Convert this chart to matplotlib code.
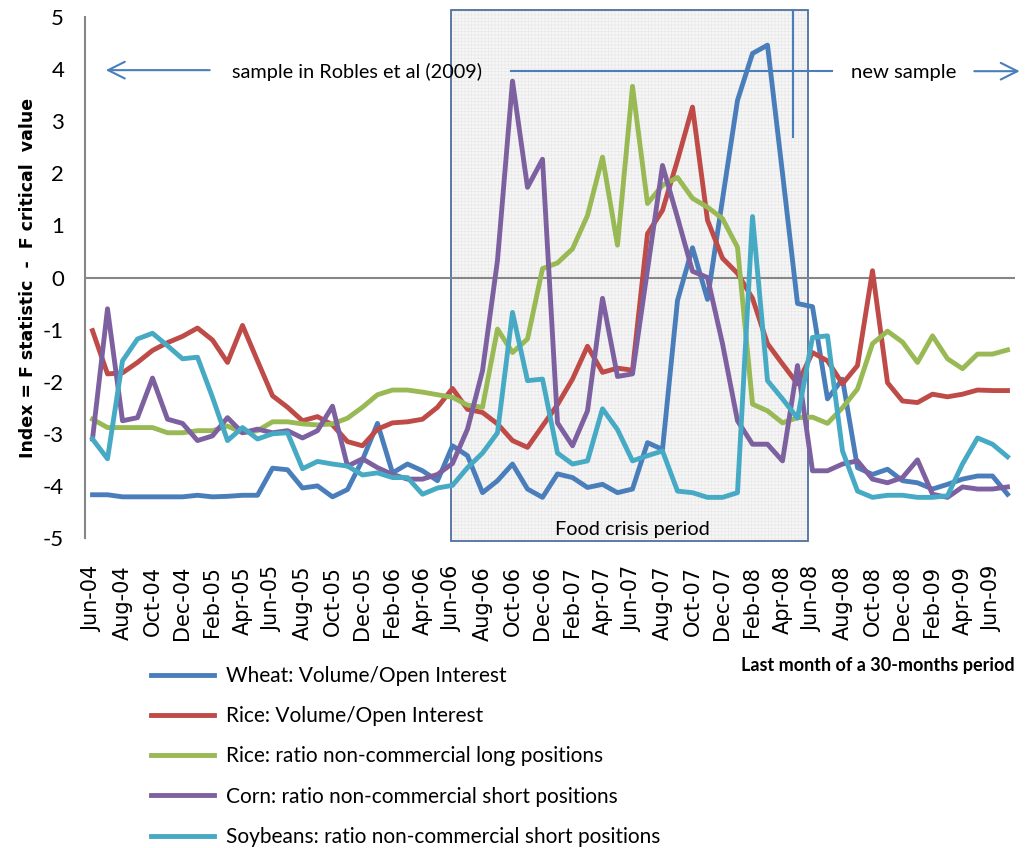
import matplotlib
matplotlib.use('Agg')
import matplotlib.pyplot as plt
from matplotlib.patches import Rectangle
import numpy as np

NARROW = ['Lato', 'DejaVu Sans']
WIDE = ['DejaVu Sans']

# monthly points, Jun-04 .. Jul-09 (last month of each 30-month window)
tick_labels = ['Jun-04', 'Aug-04', 'Oct-04', 'Dec-04', 'Feb-05', 'Apr-05', 'Jun-05', 'Aug-05',
               'Oct-05', 'Dec-05', 'Feb-06', 'Apr-06', 'Jun-06', 'Aug-06', 'Oct-06', 'Dec-06',
               'Feb-07', 'Apr-07', 'Jun-07', 'Aug-07', 'Oct-07', 'Dec-07', 'Feb-08', 'Apr-08',
               'Jun-08', 'Aug-08', 'Oct-08', 'Dec-08', 'Feb-09', 'Apr-09', 'Jun-09']

wheat = [-4.17, -4.17, -4.21, -4.21, -4.21, -4.21, -4.21, -4.18, -4.21, -4.20,
         -4.18, -4.18, -3.66, -3.69, -4.04, -4.00, -4.21, -4.07, -3.50, -2.80,
         -3.75, -3.58, -3.71, -3.90, -3.23, -3.42, -4.13, -3.90, -3.58, -4.06,
         -4.22, -3.77, -3.84, -4.03, -3.97, -4.13, -4.06, -3.17, -3.30, -0.44,
         0.57, -0.42, 1.50, 3.40, 4.30, 4.46, 2.00, -0.50, -0.56, -2.33,
         -1.95, -3.65, -3.78, -3.68, -3.90, -3.94, -4.06, -3.97, -3.87, -3.81,
         -3.81, -4.16]
rice_vol = [-1.02, -1.85, -1.83, -1.63, -1.40, -1.25, -1.13, -0.97, -1.20, -1.63,
            -0.92, -1.60, -2.27, -2.49, -2.75, -2.67, -2.83, -3.15, -3.23, -2.91,
            -2.79, -2.77, -2.72, -2.49, -2.13, -2.53, -2.59, -2.81, -3.13, -3.26,
            -2.85, -2.44, -1.95, -1.32, -1.82, -1.74, -1.78, 0.84, 1.29, 2.25,
            3.27, 1.10, 0.37, 0.08, -0.40, -1.27, -1.66, -2.04, -1.44, -1.60,
            -2.04, -1.69, 0.13, -2.02, -2.37, -2.40, -2.24, -2.29, -2.24, -2.16,
            -2.17, -2.17]
rice_long = [-2.72, -2.88, -2.88, -2.88, -2.88, -2.98, -2.98, -2.94, -2.94, -2.85,
             -2.98, -2.94, -2.77, -2.77, -2.81, -2.83, -2.81, -2.70, -2.49, -2.25,
             -2.16, -2.16, -2.20, -2.25, -2.30, -2.45, -2.49, -0.99, -1.44, -1.18,
             0.17, 0.28, 0.55, 1.19, 2.31, 0.62, 3.67, 1.42, 1.77, 1.92,
             1.52, 1.35, 1.13, 0.58, -2.43, -2.56, -2.79, -2.69, -2.68, -2.80,
             -2.50, -2.14, -1.27, -1.03, -1.24, -1.63, -1.12, -1.56, -1.75, -1.47,
             -1.47, -1.39]
corn_short = [-3.10, -0.60, -2.75, -2.69, -1.93, -2.72, -2.80, -3.13, -3.04, -2.69,
              -2.98, -2.91, -2.98, -2.94, -3.08, -2.94, -2.47, -3.62, -3.48, -3.65,
              -3.78, -3.87, -3.87, -3.78, -3.57, -2.91, -1.79, 0.33, 3.77, 1.73,
              2.27, -2.79, -3.23, -2.56, -0.40, -1.90, -1.85, 0.15, 2.15, 1.15,
              0.12, 0.00, -1.27, -2.75, -3.20, -3.20, -3.52, -1.69, -3.71, -3.71,
              -3.58, -3.52, -3.87, -3.94, -3.84, -3.50, -4.16, -4.22, -4.02, -4.06,
              -4.06, -4.02]
soy_short = [-3.10, -3.48, -1.60, -1.18, -1.07, -1.31, -1.56, -1.53, -2.30, -3.13,
             -2.88, -3.10, -3.00, -2.98, -3.67, -3.53, -3.58, -3.62, -3.79, -3.75,
             -3.84, -3.84, -4.16, -4.04, -3.99, -3.65, -3.37, -2.98, -0.67, -1.98,
             -1.95, -3.37, -3.58, -3.52, -2.52, -2.92, -3.52, -3.42, -3.33, -4.10,
             -4.13, -4.22, -4.22, -4.13, 1.17, -1.98, -2.33, -2.70, -1.15, -1.12,
             -3.33, -4.10, -4.22, -4.18, -4.18, -4.22, -4.22, -4.19, -3.58, -3.08,
             -3.20, -3.44]

series = [
    (wheat, '#4A7EBB', 'Wheat: Volume/Open Interest'),
    (rice_vol, '#BE4B48', 'Rice: Volume/Open Interest'),
    (rice_long, '#98B954', 'Rice: ratio non-commercial long positions'),
    (corn_short, '#7D60A0', 'Corn: ratio non-commercial short positions'),
    (soy_short, '#46AAC5', 'Soybeans: ratio non-commercial short positions'),
]

plt.rcParams['hatch.linewidth'] = 0.4

fig = plt.figure(figsize=(10.27, 8.48), dpi=100)
ax = fig.add_axes([85 / 1027, 1 - 538 / 848, 930 / 1027, 521 / 848])

x = np.arange(len(wheat))

# food crisis shaded box
bx0, bx1, by0, by1 = 23.9, 47.7, -5.06, 5.13
ax.add_patch(Rectangle((bx0, by0), bx1 - bx0, by1 - by0, facecolor='#f6f6f6',
                       edgecolor='#e6e6e6', hatch='+++++', lw=0, zorder=0, clip_on=False))
ax.add_patch(Rectangle((bx0, by0), bx1 - bx0, by1 - by0, fill=False,
                       edgecolor='#4F6F9F', lw=1.3, zorder=1, clip_on=False))

ax.axhline(0, color='#868686', lw=1.5, zorder=2)

lines = []
for vals, col, lab in series:
    ln, = ax.plot(x, vals, color=col, lw=3.5, label=lab, zorder=3, solid_joinstyle='round')
    lines.append(ln)

# sample markers
acol = '#4A7EBB'
ax.plot([27.9, 49.3], [3.96, 3.96], color=acol, lw=1.5, zorder=4, clip_on=False)
ax.plot([46.7, 46.7], [5.13, 2.69], color=acol, lw=1.5, zorder=4, clip_on=False)
ax.annotate('', xy=(0.7, 3.98), xytext=(8.0, 3.98), annotation_clip=False,
            arrowprops=dict(arrowstyle='->', color=acol, lw=1.5, mutation_scale=30))
ax.annotate('', xy=(62.0, 3.96), xytext=(58.6, 3.96), annotation_clip=False,
            arrowprops=dict(arrowstyle='->', color=acol, lw=1.5, mutation_scale=30))

ax.text(17.6, 3.94, 'sample in Robles et al (2009)', ha='center', va='center',
        fontsize=14.3, family=NARROW, zorder=5)
ax.text(54.1, 3.94, 'new sample', ha='center', va='center', fontsize=14.6, family=NARROW)
ax.text(36.0, -4.83, 'Food crisis period', ha='center', va='center', fontsize=14.3,
        family=NARROW, zorder=5)

ax.set_xlim(-0.5, 61.5)
ax.set_ylim(-5, 5)
ax.set_yticks(range(-5, 6))
ax.set_yticklabels([str(v) for v in range(-5, 6)], family=NARROW, fontsize=16)
ax.set_xticks(x[::2])
ax.set_xticklabels(tick_labels, rotation=90, family=WIDE, fontsize=15)
ax.tick_params(axis='y', length=0, pad=15)
ax.tick_params(axis='x', length=0, pad=20)

for s in ['top', 'right', 'bottom']:
    ax.spines[s].set_visible(False)
ax.spines['left'].set_color('#868686')
ax.spines['left'].set_linewidth(1.5)
ax.set_facecolor('none')

ax.set_ylabel('Index = F statistic  -  F critical  value', fontsize=12.5, weight='bold',
              family=WIDE)
ax.yaxis.set_label_coords(-0.052, 0.5)

fig.text(1015 / 1027, 1 - 665 / 848, 'Last month of a 30-months period', ha='right',
         va='center', fontsize=13, weight='bold', family=NARROW)

fig.legend(handles=lines, loc='upper left', bbox_to_anchor=(151 / 1027, 1 - 666 / 848),
           frameon=False, prop={'family': NARROW, 'size': 15}, handlelength=3.0,
           handletextpad=0.6, labelspacing=0.97, borderpad=0, borderaxespad=0)

fig.savefig('out.png', dpi=100)
